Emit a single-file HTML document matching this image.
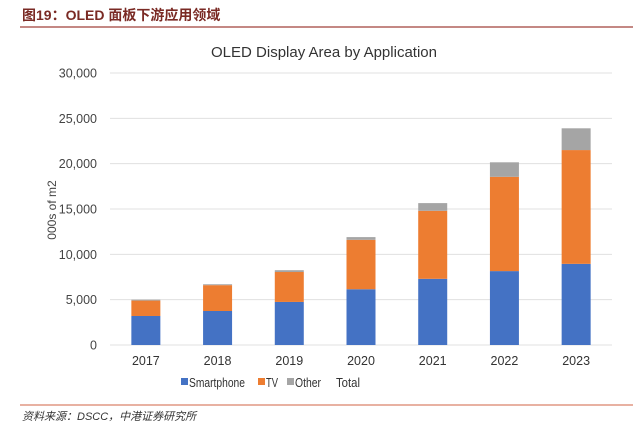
<!DOCTYPE html>
<html><head><meta charset="utf-8"><style>
body{margin:0;background:#fff;width:633px;height:422px;overflow:hidden;font-family:"Liberation Sans","Noto Sans CJK SC",sans-serif}
</style></head><body>
<svg width="633" height="422" xmlns="http://www.w3.org/2000/svg">
<text x="22" y="20" font-size="14" font-weight="bold" fill="#7a2a24" font-family="Liberation Sans,Noto Sans CJK SC,sans-serif">图19：OLED 面板下游应用领域</text>
<line x1="20" y1="27" x2="633" y2="27" stroke="#a0403a" stroke-width="1.2"/>
<text x="324" y="57" font-size="15" text-anchor="middle" fill="#333">OLED Display Area by Application</text>
<g id="grid"></g>
<g id="yt"></g>
<text transform="translate(56,210) rotate(-90)" font-size="12" text-anchor="middle" fill="#444">000s of m2</text>
<g id="bars"></g>
<g id="xt"></g>
<g>
<rect x="181" y="378" width="7" height="7" fill="#4472c4"/>
<text x="189" y="387" font-size="13" fill="#333" textLength="56" lengthAdjust="spacingAndGlyphs">Smartphone</text>
<rect x="258" y="378" width="7" height="7" fill="#ed7d31"/>
<text x="266" y="387" font-size="13" fill="#333" textLength="12" lengthAdjust="spacingAndGlyphs">TV</text>
<rect x="287" y="378" width="7" height="7" fill="#a5a5a5"/>
<text x="295" y="387" font-size="13" fill="#333" textLength="26" lengthAdjust="spacingAndGlyphs">Other</text>
<text x="336" y="387" font-size="13" fill="#333" textLength="24" lengthAdjust="spacingAndGlyphs">Total</text>
</g>
<line x1="20" y1="405" x2="633" y2="405" stroke="#d9826a" stroke-width="1.2"/>
<text x="22" y="420" font-size="11" font-style="italic" fill="#333" font-family="Liberation Sans,Noto Sans CJK SC,sans-serif">资料来源：DSCC，中港证券研究所</text>
</svg>
<script>
const years=["2017","2018","2019","2020","2021","2022","2023"];
const smartphone=[3200,3750,4750,6150,7300,8150,8950];
const tv=[1700,2850,3300,5450,7500,10400,12550];
const other=[100,100,200,300,850,1600,2400];
const yTicks=[0,5000,10000,15000,20000,25000,30000];
const yTickLabels=["0","5,000","10,000","15,000","20,000","25,000","30,000"];
const NS="http://www.w3.org/2000/svg";
const y0=345,y1=73,vmax=30000,xl=110,xr=612;
const ys=v=>y0-(v/vmax)*(y0-y1);
const step=(xr-xl)/years.length;
const xc=i=>xl+step*(i+0.5);
function mk(t,a,p){const e=document.createElementNS(NS,t);for(const k in a)e.setAttribute(k,a[k]);p.appendChild(e);return e;}
const grid=document.getElementById('grid'),yt=document.getElementById('yt'),bars=document.getElementById('bars'),xt=document.getElementById('xt');
yTicks.forEach((v,i)=>{
 const l=mk('line',{x1:xl,x2:xr,y1:ys(v),y2:ys(v),stroke:'#e0e0e0','stroke-width':1},grid);
 
 
 const t=mk('text',{x:97,y:ys(v)+4.5,'font-size':12.5,'text-anchor':'end',fill:'#444'},yt);
 t.textContent=yTickLabels[i];
 
 
});
const series=[[smartphone,'#4472c4','smartphone'],[tv,'#ed7d31','tv'],[other,'#a5a5a5','other']];
years.forEach((yr,i)=>{
 let base=0;
 series.forEach(([arr,c,n])=>{
  const top=base+arr[i];
  const r=mk('rect',{x:xc(i)-14.5,width:29,y:ys(top),height:ys(base)-ys(top),fill:c},bars);
  
  
  base=top;
 });
 const t=mk('text',{x:xc(i),y:365,'font-size':12.5,'text-anchor':'middle',fill:'#333'},xt);
 t.textContent=yr;
 
 
});
</script>
</body></html>
